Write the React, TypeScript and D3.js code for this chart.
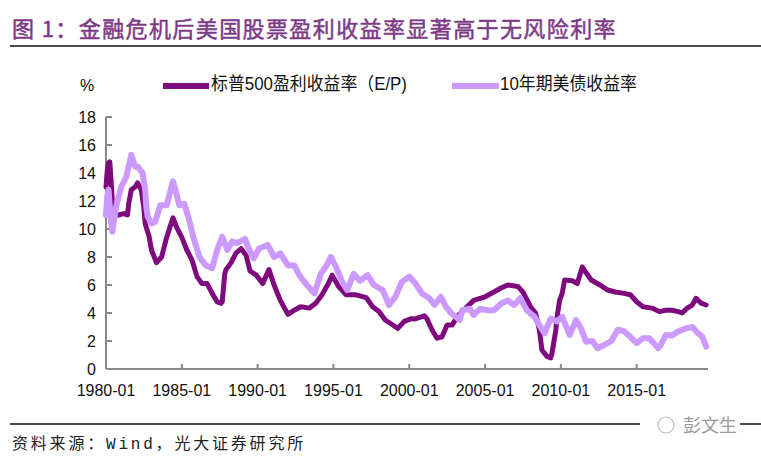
import React from 'react';
import * as d3 from 'd3';

// S&P 500 earnings yield (E/P), %
const epDates = [
  '1980-01', '1980-02', '1980-03', '1980-04', '1980-05', '1980-06', '1980-07', '1980-11',
  '1981-03', '1981-06', '1981-07', '1981-09', '1981-12', '1982-02', '1982-05', '1982-07',
  '1982-08', '1982-11', '1983-01', '1983-05', '1983-09', '1984-01', '1984-06', '1984-09',
  '1985-01', '1985-05', '1985-09', '1986-01', '1986-05', '1986-09', '1987-01', '1987-05',
  '1987-08', '1987-09', '1987-11', '1987-12', '1988-04', '1988-08', '1988-12', '1989-04',
  '1989-07', '1989-12', '1990-05', '1990-10', '1991-02', '1991-07', '1992-01', '1992-06',
  '1992-11', '1993-06', '1993-11', '1994-04', '1994-09', '1994-12', '1995-05', '1995-11',
  '1996-07', '1997-03', '1997-08', '1998-01', '1998-06', '1998-12', '1999-04', '1999-09',
  '2000-03', '2000-05', '2001-01', '2001-03', '2001-07', '2001-11', '2002-03', '2002-07',
  '2002-11', '2003-03', '2003-08', '2004-04', '2005-01', '2005-08', '2006-02', '2006-07',
  '2007-03', '2007-07', '2008-01', '2008-05', '2008-08', '2008-10', '2009-02', '2009-05',
  '2009-06', '2009-09', '2009-10', '2009-12', '2010-02', '2010-04', '2010-10', '2011-02',
  '2011-06', '2011-08', '2012-01', '2012-08', '2013-02', '2013-08', '2014-03', '2014-08',
  '2015-01', '2015-06', '2016-01', '2016-07', '2016-12', '2017-05', '2017-10', '2018-01',
  '2018-05', '2018-09', '2018-12', '2019-04', '2019-08',
];
const epValues = [
  13.0, 14.2, 14.7, 14.8, 13.5, 12.0, 11.0, 11.0,
  11.1, 11.0, 11.8, 12.8, 13.0, 13.3, 12.8, 11.5,
  10.4, 9.5, 8.5, 7.6, 8.0, 9.4, 10.8, 10.1,
  9.4, 8.5, 7.8, 6.6, 6.1, 6.1, 5.4, 4.8,
  4.7, 4.8, 6.8, 7.1, 7.6, 8.3, 8.6, 8.1,
  7.0, 6.7, 6.1, 7.1, 6.0, 4.9, 3.9, 4.2,
  4.45, 4.35, 4.7, 5.3, 6.1, 6.7, 5.9, 5.3,
  5.3, 5.1, 4.45, 4.1, 3.5, 3.14, 2.9, 3.4,
  3.6, 3.57, 3.8, 3.6, 2.8, 2.2, 2.3, 3.14,
  3.14, 3.74, 4.2, 4.9, 5.16, 5.5, 5.8, 6.0,
  5.9, 5.5, 4.45, 4.0, 2.8, 1.36, 0.9, 0.8,
  1.14, 2.8, 3.7, 4.9, 5.4, 6.36, 6.3, 6.1,
  7.3, 7.0, 6.36, 6.0, 5.64, 5.5, 5.4, 5.3,
  4.8, 4.45, 4.35, 4.1, 4.2, 4.2, 4.1, 4.0,
  4.35, 4.57, 5.05, 4.7, 4.57,
];

// 10-year US Treasury yield, %
const tsyDates = [
  '1980-01', '1980-02', '1980-03', '1980-05', '1980-06', '1980-09', '1981-01', '1981-05',
  '1981-09', '1981-12', '1982-02', '1982-06', '1982-08', '1982-09', '1982-10', '1983-01',
  '1983-04', '1983-08', '1984-01', '1984-06', '1984-08', '1984-11', '1985-03', '1985-07',
  '1985-10', '1986-03', '1986-08', '1987-01', '1987-05', '1987-09', '1988-01', '1988-05',
  '1988-09', '1989-03', '1989-06', '1989-10', '1990-02', '1990-09', '1991-02', '1991-07',
  '1992-01', '1992-06', '1992-10', '1993-03', '1993-10', '1994-03', '1994-07', '1994-11',
  '1995-03', '1995-08', '1995-12', '1996-05', '1996-10', '1997-04', '1997-09', '1998-04',
  '1998-09', '1999-02', '1999-07', '2000-01', '2000-06', '2000-11', '2001-05', '2001-09',
  '2002-02', '2002-06', '2002-10', '2003-05', '2003-07', '2004-01', '2004-04', '2004-09',
  '2005-03', '2005-08', '2006-02', '2006-07', '2006-12', '2007-05', '2007-10', '2008-04',
  '2008-08', '2008-12', '2009-05', '2009-10', '2010-02', '2010-08', '2011-01', '2011-05',
  '2011-09', '2012-02', '2012-06', '2012-11', '2013-05', '2013-10', '2014-03', '2014-08',
  '2015-01', '2015-06', '2015-11', '2016-06', '2016-08', '2016-12', '2017-05', '2017-10',
  '2018-04', '2018-09', '2019-01', '2019-05', '2019-08',
];
const tsyValues = [
  11.0, 12.4, 12.8, 10.5, 9.8, 11.6, 13.0, 13.7,
  15.3, 14.45, 14.45, 14.0, 12.8, 11.5, 10.9, 10.4,
  10.5, 11.7, 11.7, 13.4, 12.8, 11.7, 11.8, 10.6,
  9.45, 8.0, 7.4, 7.2, 8.5, 9.45, 8.5, 9.1,
  9.0, 9.3, 8.6, 7.9, 8.6, 8.86, 8.0, 8.26,
  7.4, 7.4, 6.7, 6.1, 5.4, 6.8, 7.3, 8.0,
  7.3, 6.2, 5.64, 6.8, 6.3, 6.7, 6.0, 5.64,
  4.57, 5.16, 6.2, 6.6, 6.1, 5.4, 5.05, 4.57,
  5.16, 4.45, 4.0, 3.5, 4.2, 4.3, 3.86, 4.3,
  4.2, 4.2, 4.7, 4.9, 4.57, 5.05, 4.2, 3.74,
  3.14, 2.55, 3.6, 3.4, 3.74, 2.43, 3.5, 2.9,
  1.95, 2.0, 1.48, 1.7, 2.0, 2.8, 2.7, 2.3,
  1.84, 2.2, 2.2, 1.5, 1.7, 2.43, 2.4, 2.7,
  2.9, 3.0, 2.6, 2.3, 1.6,
];

const yTicks = [0, 2, 4, 6, 8, 10, 12, 14, 16, 18];
const xTickLabels = ['1980-01', '1985-01', '1990-01', '1995-01', '2000-01', '2005-01', '2010-01', '2015-01'];

const seriesNames = ['标普500盈利收益率（E/P)', '10年期美债收益率'];
const title = '图 1：金融危机后美国股票盈利收益率显著高于无风险利率';
const source = '资料来源：Wind，光大证券研究所';

const W = 761;
const H = 460;
const DARK = '#7E0A7E';
const LIGHT = '#CC99FF';
const AXIS = '#888888';
const FONT = "Arial, 'Liberation Sans', 'Noto Sans CJK SC', sans-serif";
const CJK = "'Noto Sans CJK SC', sans-serif";

const parse = d3.timeParse('%Y-%m') as (s: string) => Date;

export default function App() {
  const x = d3.scaleTime()
    .domain([new Date(1980, 0, 1), new Date(2019, 8, 15)])
    .range([106, 708]);
  const y = d3.scaleLinear().domain([0, 18]).range([369, 117]);

  const line = d3.line<[Date, number]>()
    .x(d => x(d[0]))
    .y(d => y(d[1]));

  const ep: [Date, number][] = epDates.map((d, i) => [parse(d), epValues[i]]);
  const tsy: [Date, number][] = tsyDates.map((d, i) => [parse(d), tsyValues[i]]);

  const [x0, x1] = x.range();
  const [yb, yt] = y.range();

  return (
    <svg
      width={W}
      height={H}
      style={{ position: 'absolute', left: 0, top: 0, background: '#fff' }}
      fontFamily={FONT}
    >
      {/* title */}
      <text x={12} y={37} fontSize={22} fill="#7D3A86" stroke="#7D3A86" strokeWidth={0.5}
        fontFamily={CJK} letterSpacing={1.4}>
        {title}
      </text>
      <line x1={10} x2={W} y1={46} y2={46} stroke="#111" strokeWidth={1.5} />

      {/* legend */}
      <text x={80} y={91} fontSize={16} fill="#111">%</text>
      <line x1={163} x2={209} y1={86} y2={86} stroke={DARK} strokeWidth={6} />
      <text x={211} y={89.5} fontSize={18} fill="#111" textLength={196}
        lengthAdjust="spacingAndGlyphs">{seriesNames[0]}</text>
      <line x1={452} x2={499} y1={86} y2={86} stroke={LIGHT} strokeWidth={6} />
      <text x={500} y={89.5} fontSize={18} fill="#111" textLength={137}
        lengthAdjust="spacingAndGlyphs">{seriesNames[1]}</text>

      {/* y axis */}
      <line x1={x0} x2={x0} y1={yb} y2={yt} stroke={AXIS} strokeWidth={2} />
      {yTicks.map(t => (
        <g key={t}>
          <line x1={x0} x2={x0 + 6} y1={y(t)} y2={y(t)} stroke={AXIS} strokeWidth={2} />
          <text x={96} y={y(t) + 5.5} fontSize={16} textAnchor="end" fill="#111">{t}</text>
        </g>
      ))}

      {/* x axis */}
      <line x1={x0} x2={x1} y1={yb} y2={yb} stroke={AXIS} strokeWidth={2} />
      {xTickLabels.map(lab => {
        const px = x(parse(lab));
        return (
          <g key={lab}>
            <line x1={px} x2={px} y1={yb} y2={yb - 5} stroke={AXIS} strokeWidth={2} />
            <text x={px} y={395.5} fontSize={16} textAnchor="middle" fill="#111">{lab}</text>
          </g>
        );
      })}

      {/* series */}
      <path d={line(ep) || ''} fill="none" stroke={DARK} strokeWidth={5}
        strokeLinejoin="round" strokeLinecap="round" />
      <path d={line(tsy) || ''} fill="none" stroke={LIGHT} strokeWidth={6}
        strokeLinejoin="round" strokeLinecap="round" />

      {/* footer */}
      <line x1={10} x2={640} y1={424} y2={424} stroke="#111" strokeWidth={1.5} />
      <line x1={740} x2={W} y1={424} y2={424} stroke="#111" strokeWidth={1.5} />
      <circle cx={666} cy={425} r={8} fill="none" stroke="#bbb" strokeWidth={1.2} />
      <text x={683} y={432} fontSize={18} fill="#999" fontFamily={CJK}>彭文生</text>
      <text x={12} y={449} fontSize={16} fill="#222" letterSpacing={2.8}
        fontFamily={"'Liberation Mono', 'Noto Sans CJK SC', monospace"}>{source}</text>
    </svg>
  );
}
